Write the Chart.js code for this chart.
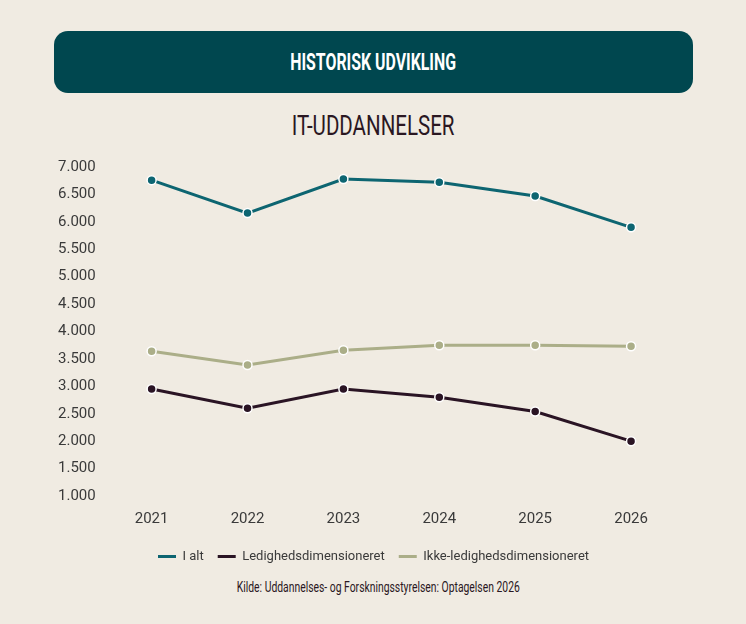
<!DOCTYPE html>
<html lang="da">
<head>
<meta charset="utf-8">
<title>IT-uddannelser – historisk udvikling</title>
<script src="https://cdn.jsdelivr.net/npm/chart.js@4.4.1/dist/chart.umd.min.js"></script>
<style>
  html, body {
    margin: 0;
    padding: 0;
    width: 746px;
    height: 624px;
    background: #f0ebe2;
    overflow: hidden;
    font-family: Roboto, "Noto Sans", sans-serif;
  }
  .header {
    position: absolute;
    left: 54px;
    top: 31px;
    width: 639px;
    height: 62px;
    background: #00474f;
    border-radius: 14px;
    display: flex;
    align-items: center;
    justify-content: center;
  }
  .header span {
    color: #ffffff;
    font-weight: 700;
    font-size: 23px;
    display: inline-block;
    transform: scaleX(0.69);
  }
  .subtitle {
    position: absolute;
    left: 0;
    top: 110px;
    width: 746px;
    text-align: center;
  }
  .subtitle span {
    color: #2a1722;
    font-size: 27px;
    display: inline-block;
    transform: scaleX(0.76);
  }
  .source {
    position: absolute;
    left: 5px;
    top: 577px;
    width: 746px;
    text-align: center;
  }
  .source span {
    color: #2a1722;
    font-size: 14px;
    display: inline-block;
    transform: scaleX(0.74);
  }
  #chartWrap {
    position: absolute;
    left: 0;
    top: 150px;
    width: 746px;
    height: 423px;
  }
</style>
</head>
<body>
<div class="header"><span>HISTORISK UDVIKLING</span></div>
<div class="subtitle"><span>IT-UDDANNELSER</span></div>
<div id="chartWrap"><canvas id="lineChart"></canvas></div>
<div class="source"><span>Kilde: Uddannelses- og Forskningsstyrelsen: Optagelsen 2026</span></div>

<script>
// data
const years = ["2021", "2022", "2023", "2024", "2025", "2026"];
const iAlt = [6760, 6160, 6780, 6720, 6470, 5900];
const ledighedsdim = [2950, 2600, 2950, 2800, 2540, 2000];
const ikkeLedighedsdim = [3640, 3390, 3660, 3750, 3750, 3730];

const yMin = 1000;
const yMax = 7000;
const yStep = 500;

const colors = {
  iAlt: "#0d6571",
  ledig: "#2a1424",
  ikke: "#abae88",
  tick: "#3a3a3a"
};

// tusindtals-punktum, fx 7.000
function formatNumber(v) {
  return String(v).replace(/\B(?=(\d{3})+(?!\d))/g, ".");
}

function makeDataset(label, data, color) {
  return {
    label: label,
    data: data,
    borderColor: color,
    backgroundColor: color,
    borderWidth: 3,
    pointRadius: 4.5,
    pointHoverRadius: 5,
    pointBackgroundColor: color,
    pointBorderColor: "#ffffff",
    pointBorderWidth: 1.5,
    tension: 0
  };
}

// legenden skal centreres på hele siden, ikke kun på plotområdet
const legendShift = {
  id: "legendShift",
  afterLayout(chart) {
    if (chart.legend) {
      chart.legend.left += 9;
      chart.legend.right += 9;
    }
  }
};

const ctx = document.getElementById("lineChart").getContext("2d");

const chart = new Chart(ctx, {
  type: "line",
  data: {
    labels: years,
    datasets: [
      makeDataset("I alt", iAlt, colors.iAlt),
      makeDataset("Ledighedsdimensioneret", ledighedsdim, colors.ledig),
      makeDataset("Ikke-ledighedsdimensioneret", ikkeLedighedsdim, colors.ikke)
    ]
  },
  plugins: [legendShift],
  options: {
    responsive: true,
    maintainAspectRatio: false,
    animation: false,
    layout: {
      padding: { top: 14, left: 50, right: 67, bottom: 0 }
    },
    scales: {
      x: {
        offset: true,
        grid: { display: false, drawTicks: false },
        border: { display: false },
        ticks: {
          color: colors.tick,
          font: { family: "Roboto", size: 15 },
          padding: 14
        },
        // mindre luft mellem årstal og legend
        afterFit: (scale) => { scale.height -= 6; }
      },
      y: {
        min: yMin,
        max: yMax,
        grid: { display: false, drawTicks: false },
        border: { display: false },
        ticks: {
          stepSize: yStep,
          color: colors.tick,
          font: { family: "Roboto", size: 15 },
          padding: 8,
          callback: (v) => formatNumber(v)
        }
      }
    },
    plugins: {
      legend: {
        position: "bottom",
        labels: {
          usePointStyle: true,
          pointStyle: "line",
          pointStyleWidth: 18,
          color: colors.tick,
          font: { family: "Roboto", size: 13 },
          padding: 14,
          generateLabels: (c) => {
            const items = Chart.defaults.plugins.legend.labels.generateLabels(c);
            items.forEach((item) => {
              const ds = c.data.datasets[item.datasetIndex];
              item.strokeStyle = ds.borderColor;
              item.fillStyle = ds.borderColor;
              item.lineWidth = 3;
            });
            return items;
          }
        }
      },
      tooltip: { enabled: false }
    }
  }
});
</script>
</body>
</html>
